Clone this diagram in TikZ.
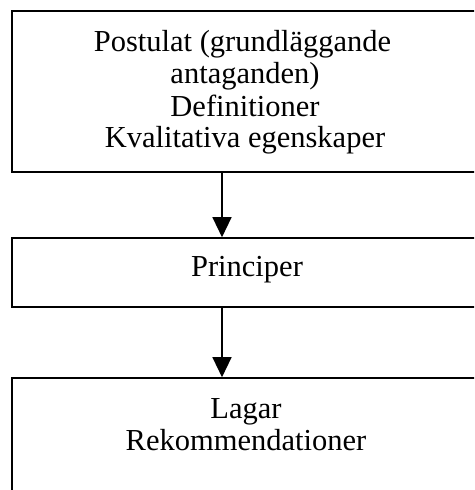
\documentclass[tikz,border=0pt]{standalone}
\usepackage{fontspec}
\setmainfont{Liberation Serif}
\usetikzlibrary{arrows.meta}
\begin{document}
\begin{tikzpicture}[x=1pt,y=-1pt,
  box/.style={draw,line width=1.6pt,inner sep=0pt},
  txt/.style={anchor=base,inner sep=0pt,font=\fontsize{30.5}{34}\selectfont},
  arr/.style={line width=1.3pt,-{Triangle[length=20pt,width=19pt]}}]
\useasboundingbox (0,0) rectangle (474,490);
\clip (0,0) rectangle (474,490);
\fill[white] (0,0) rectangle (474,490);
\node[box,minimum width=468pt,minimum height=161pt] (top) at (246,91.5) {};
\node[box,minimum width=468pt,minimum height=69pt] (mid) at (246,272.5) {};
\node[box,minimum width=468pt,minimum height=122pt] (bot) at (246,439) {};
\coordinate (ax) at (222,0);
\node[txt] (t1) at (242.5,51) {Postulat (grundläggande};
\node[txt] (t2) at (245,83) {antaganden)};
\node[txt] (t3) at (245,116) {Definitioner};
\node[txt] (t4) at (245,147) {Kvalitativa egenskaper};
\node[txt] (m1) at (247,276) {Principer};
\node[txt] (b1) at (246,418) {Lagar};
\node[txt] (b2) at (246,450) {Rekommendationer};
\draw[arr] (top.south -| ax) -- (mid.north -| ax);
\draw[arr] (mid.south -| ax) -- (bot.north -| ax);
\end{tikzpicture}
\end{document}
